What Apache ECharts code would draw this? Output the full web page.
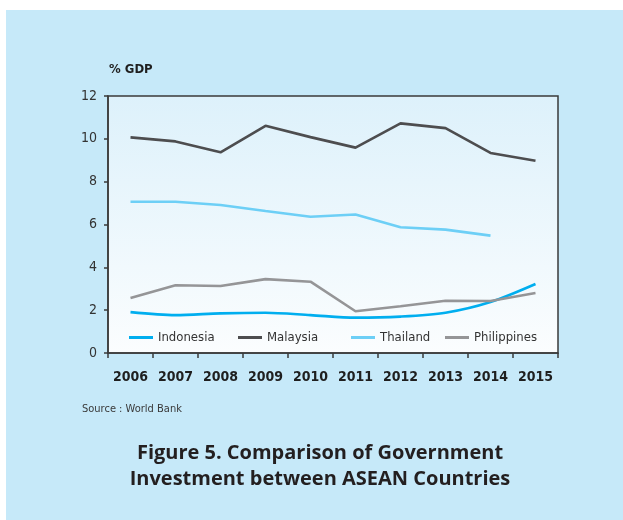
<!DOCTYPE html>
<html>
<head>
<meta charset="utf-8">
<style>
  html, body { margin: 0; padding: 0; background: #ffffff; }
  #chart { width: 623px; height: 520px; }
</style>
<script src="https://cdn.jsdelivr.net/npm/echarts@6/dist/echarts.min.js"></script>
</head>
<body>
<div id="chart"></div>
<script>
// Government investment, % of GDP
const years = ['2006', '2007', '2008', '2009', '2010', '2011', '2012', '2013', '2014', '2015'];
const indonesia   = [1.91, 1.77, 1.85, 1.88, 1.77, 1.65, 1.70, 1.88, 2.38, 3.22];
const malaysia    = [10.07, 9.88, 9.37, 10.61, 10.08, 9.59, 10.72, 10.50, 9.34, 8.98];
const thailand    = [7.06, 7.06, 6.91, 6.63, 6.36, 6.47, 5.87, 5.76, 5.48, null];
const philippines = [2.57, 3.16, 3.13, 3.45, 3.33, 1.95, 2.18, 2.44, 2.43, 2.80];
const yTicks = { min: 0, max: 12, interval: 2 };

const NARROW = '"DejaVu Sans Condensed", "Liberation Sans Narrow", "Liberation Sans", sans-serif';
const TITLE_FONT = '"Open Sans", "Noto Sans", sans-serif';

const colors = {
  Indonesia: '#00aeef',
  Malaysia: '#4d4d4f',
  Thailand: '#6dcff6',
  Philippines: '#959597'
};

function legendFor(name, left) {
  return {
    data: [name],
    left: left,
    top: 331,
    icon: 'rect',
    itemWidth: 24,
    itemHeight: 3,
    padding: 0,
    textStyle: { fontFamily: NARROW, fontSize: 13, color: '#333' }
  };
}

function lineSeries(name, data, smooth) {
  return {
    name: name,
    type: 'line',
    data: data,
    symbol: 'none',
    smooth: smooth || false,
    connectNulls: false,
    lineStyle: { width: 2.6, color: colors[name] },
    itemStyle: { color: colors[name] },
    z: 3
  };
}

const chart = echarts.init(document.getElementById('chart'), null, { renderer: 'canvas' });

chart.setOption({
  animation: false,
  backgroundColor: '#ffffff',
  graphic: [
    {
      type: 'rect',
      left: 6, top: 10,
      shape: { width: 617, height: 510 },
      style: { fill: '#c6e9f9' },
      z: -10
    },
    {
      type: 'text',
      left: 109, top: 63,
      style: { text: '% GDP', font: 'bold 13px ' + NARROW, fill: '#1f1f1f' }
    },
    {
      type: 'text',
      left: 82, top: 404,
      style: { text: 'Source : World Bank', font: '11px ' + NARROW, fill: '#3a3a3a' }
    },
    {
      type: 'text',
      x: 320, y: 443,
      style: {
        text: 'Figure 5. Comparison of Government',
        font: 'bold 20px ' + TITLE_FONT,
        fill: '#231f20',
        align: 'center'
      }
    },
    {
      type: 'text',
      x: 320, y: 469,
      style: {
        text: 'Investment between ASEAN Countries',
        font: 'bold 20px ' + TITLE_FONT,
        fill: '#231f20',
        align: 'center'
      }
    }
  ],
  grid: {
    left: 108, right: 65, top: 96, bottom: 167,
    show: true,
    borderColor: '#3a3a3a',
    borderWidth: 1.5,
    backgroundColor: {
      type: 'linear', x: 0, y: 0, x2: 0, y2: 1,
      colorStops: [
        { offset: 0, color: '#ddf1fb' },
        { offset: 1, color: '#fbfdfe' }
      ]
    }
  },
  legend: [
    legendFor('Indonesia', 129),
    legendFor('Malaysia', 238),
    legendFor('Thailand', 351),
    legendFor('Philippines', 445)
  ],
  xAxis: {
    type: 'category',
    data: years,
    boundaryGap: true,
    axisLine: { show: true, lineStyle: { color: '#3a3a3a', width: 1.5 } },
    axisTick: { show: true, length: 5, lineStyle: { color: '#3a3a3a', width: 1.5 } },
    axisLabel: {
      interval: 0,
      margin: 17,
      fontFamily: NARROW, fontSize: 14, fontWeight: 'bold', color: '#1f1f1f'
    },
    splitLine: { show: false }
  },
  yAxis: {
    type: 'value',
    min: yTicks.min, max: yTicks.max, interval: yTicks.interval,
    axisLine: { show: true, lineStyle: { color: '#3a3a3a', width: 1.5 } },
    axisTick: { show: true, length: 4, lineStyle: { color: '#3a3a3a', width: 1.5 } },
    axisLabel: { margin: 11, fontFamily: NARROW, fontSize: 14, color: '#333' },
    splitLine: { show: false }
  },
  series: [
    lineSeries('Indonesia', indonesia, 0.3),
    lineSeries('Malaysia', malaysia),
    lineSeries('Thailand', thailand),
    lineSeries('Philippines', philippines)
  ]
});
</script>
</body>
</html>
